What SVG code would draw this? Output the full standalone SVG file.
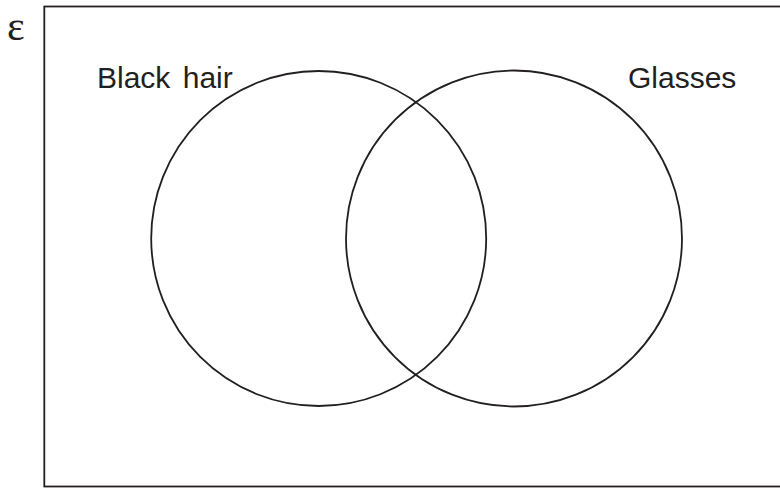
<svg xmlns="http://www.w3.org/2000/svg" width="780" height="488" viewBox="0 0 780 488">
<style>
.ln{fill:none;stroke:#231f20;stroke-width:1.8}
.lbl{font-family:"Liberation Sans",Arial,sans-serif;font-size:30px;fill:#231f20}
.eps{font-family:"Liberation Serif","Times New Roman",serif;font-size:42px;fill:#231f20}
</style>
<rect width="780" height="488" fill="#fff"/>
<g id="universe">
<rect class="ln" x="44.3" y="6.5" width="760" height="480"/>
<text class="eps" x="7" y="40">ε</text>
</g>
<g id="black-hair">
<circle class="ln" cx="318.7" cy="238.5" r="167.5"/>
<text class="lbl" x="97" y="88" word-spacing="4">Black hair</text>
</g>
<g id="glasses">
<circle class="ln" cx="514" cy="238.5" r="168"/>
<text class="lbl" x="628" y="88">Glasses</text>
</g>
</svg>
